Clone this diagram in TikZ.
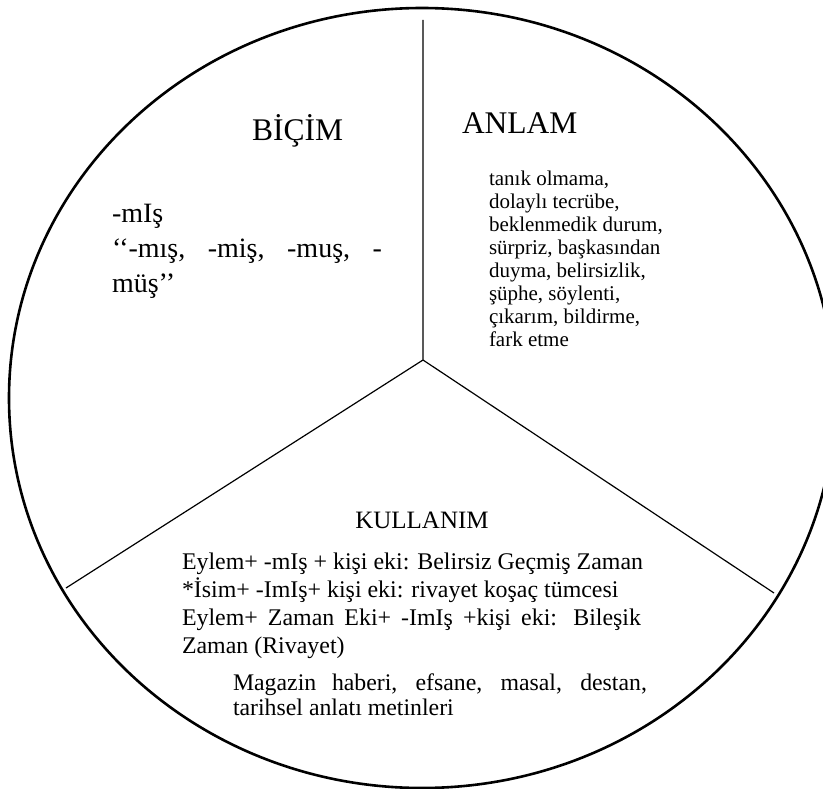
\documentclass[tikz,border=0pt]{standalone}
\usepackage{fontspec}
\setmainfont{Liberation Serif}
\begin{document}
\begin{tikzpicture}[x=1pt,y=-1pt,
  rim/.style={line width=2.6pt},
  divider/.style={line width=1.2pt},
  txt/.style={inner sep=0pt, outer sep=0pt, anchor=base west, align=left}]
\useasboundingbox (0,0) rectangle (823,789);
% outer ring and the three dividing spokes
\coordinate (hub) at (423,360);
\coordinate (spokeTop) at (423,20);
\coordinate (spokeLeft) at (66,588);
\coordinate (spokeRight) at (774,593);
\draw[rim] (422,398) ellipse [x radius=413pt, y radius=390pt];
\draw[divider] (spokeTop) -- (hub) -- (spokeLeft);
\draw[divider] (hub) -- (spokeRight);

% headings
\node[txt, font=\fontsize{31.5}{36}\selectfont] (bicim) at (252,141) {BİÇİM};
\node[txt, font=\fontsize{31.5}{36}\selectfont] (anlam) at (462,134) {ANLAM};
\node[txt, font=\fontsize{25}{28}\selectfont, anchor=base] (kullanim) at (422,528) {KULLANIM};

% form (multi-line nodes are anchored on the baseline of their last line)
\node[txt, font=\fontsize{28}{35}\selectfont] (formtext) at (112,292)
  {-mIş\\ \makebox[270pt][s]{‘‘-mış, -miş, -muş, -}\\ müş’’};

% meaning
\node[txt, font=\fontsize{21}{23}\selectfont] (meaningtext) at (489,346)
  {tanık olmama,\\ dolaylı tecrübe,\\ beklenmedik durum,\\ sürpriz, başkasından\\
   duyma, belirsizlik,\\ şüphe, söylenti,\\ çıkarım, bildirme,\\ fark etme};

% usage
\node[txt, font=\fontsize{23.9}{28}\selectfont] (usagetext) at (182,653)
  {Eylem+ -mIş + kişi eki: Belirsiz Geçmiş Zaman\\
   *İsim+ -ImIş+ kişi eki: rivayet koşaç tümcesi\\
   \makebox[459pt][s]{Eylem+ Zaman Eki+ -ImIş +kişi eki: Bileşik}\\
   Zaman (Rivayet)};
\node[txt, font=\fontsize{23.8}{25}\selectfont] (genretext) at (233,715)
  {\makebox[414pt][s]{Magazin haberi, efsane, masal, destan,}\\
   tarihsel anlatı metinleri};
\end{tikzpicture}
\end{document}
